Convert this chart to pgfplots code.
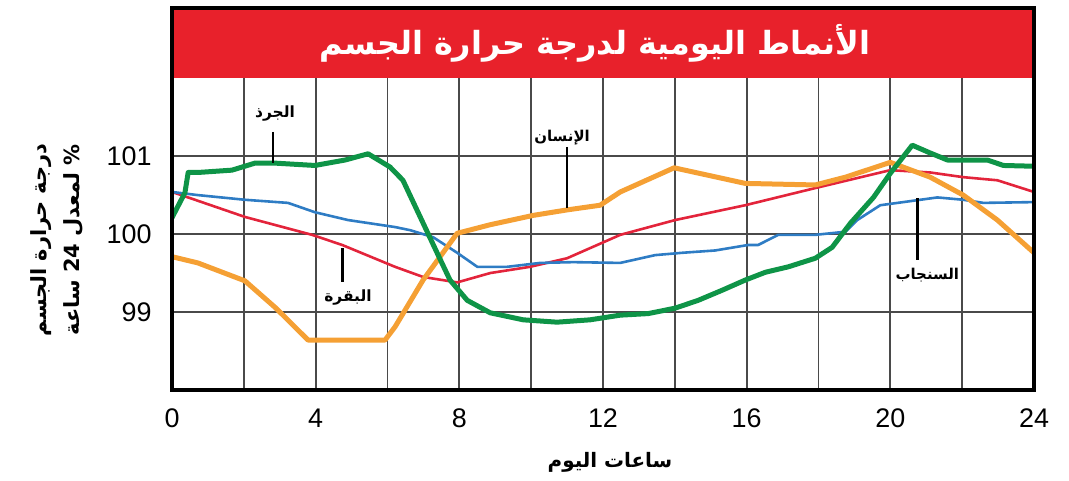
\documentclass[border=0pt]{standalone}
\usepackage{pgfplots}
\pgfplotsset{compat=1.18}
\usepackage{fontspec}
\setmainfont{Liberation Sans}
\newfontfamily\arabicfont[Script=Arabic]{DejaVu Sans}
\TeXXeTstate=1
\definecolor{cgreen}{HTML}{0E9447}
\definecolor{corange}{HTML}{F5A034}
\definecolor{cred}{HTML}{E3243B}
\definecolor{cblue}{HTML}{2E7CC4}
\definecolor{cband}{HTML}{E8212B}
\definecolor{cgrid}{HTML}{4A4A4A}
\begin{document}
\begin{tikzpicture}
\begin{axis}[name=ax, scale only axis, width=862bp, height=382bp,
  xmin=0, xmax=24, ymin=98, ymax=102.9,
  xtick={0,4,...,24}, minor xtick={2,6,...,22}, ytick={99,100,101},
  xmajorgrids, xminorgrids, ymajorgrids,
  grid style={cgrid, line width=1.8bp}, minor grid style={cgrid, line width=1.8bp},
  major tick length=0pt, minor tick length=0pt,
  axis line style={line width=4.5bp, black},
  ticklabel style={font=\fontsize{27}{27}\selectfont},
  /pgf/number format/assume math mode=true,
  xticklabel style={yshift=-15bp},
  yticklabel style={xshift=-17bp},
  every axis plot/.append style={line join=round, line cap=round},
]
\fill[cband] (axis cs:0,102) rectangle (axis cs:24,102.9);
\addplot[cred, line width=2.6bp] coordinates {(0,100.54)(0.64,100.44)(2.03,100.22)(3.90,99.99)(4.74,99.86)(6.21,99.58)(6.99,99.45)(7.94,99.38)(8.86,99.50)(9.97,99.58)(11.00,99.69)(12.48,99.99)(14.01,100.18)(15.96,100.37)(17.91,100.59)(20.0,100.82)(21.11,100.79)(22.03,100.73)(22.98,100.69)(24,100.54)};
\addplot[cblue, line width=2.6bp] coordinates {(0,100.54)(0.72,100.50)(2.03,100.44)(3.23,100.40)(3.98,100.28)(4.90,100.18)(6.21,100.09)(6.63,100.05)(7.27,99.96)(7.94,99.76)(8.50,99.58)(9.33,99.58)(10.25,99.63)(11.17,99.64)(12.48,99.63)(13.45,99.73)(14.21,99.76)(15.13,99.79)(16.04,99.86)(16.32,99.86)(16.88,99.99)(17.91,99.99)(18.75,100.03)(19.08,100.18)(19.72,100.37)(20.36,100.41)(21.31,100.47)(22.03,100.44)(22.59,100.40)(24,100.41)};
\addplot[corange, line width=5bp] coordinates {(0,99.71)(0.72,99.63)(2.03,99.40)(2.87,99.06)(3.79,98.64)(5.93,98.64)(6.21,98.81)(6.99,99.41)(7.94,100.01)(8.86,100.12)(10.06,100.24)(11.00,100.31)(11.92,100.37)(12.48,100.54)(13.98,100.85)(15.96,100.65)(17.91,100.63)(18.75,100.73)(20.0,100.92)(21.11,100.73)(22.03,100.50)(22.98,100.18)(24,99.76)};
\addplot[cgreen, line width=5bp] coordinates {(0,100.21)(0.36,100.53)(0.45,100.79)(0.72,100.79)(1.67,100.82)(2.31,100.91)(2.87,100.91)(3.98,100.88)(4.82,100.95)(5.46,101.03)(6.07,100.86)(6.43,100.69)(6.91,100.22)(7.38,99.76)(7.74,99.41)(8.22,99.15)(8.86,98.99)(9.78,98.90)(10.72,98.87)(11.64,98.90)(12.48,98.96)(13.26,98.98)(14.01,99.05)(14.65,99.15)(15.32,99.28)(15.96,99.41)(16.52,99.51)(17.16,99.58)(17.91,99.69)(18.38,99.83)(18.89,100.14)(19.53,100.47)(20.0,100.78)(20.61,101.14)(21.11,101.04)(21.59,100.95)(22.03,100.95)(22.70,100.95)(23.15,100.88)(24,100.87)};
% leader lines
\draw[black, line width=2.8bp] (axis cs:2.81,101.31) -- (axis cs:2.81,100.91);
\draw[black, line width=2.8bp] (axis cs:11.0,101.12) -- (axis cs:11.0,100.33);
\draw[black, line width=2.8bp] (axis cs:4.74,99.82) -- (axis cs:4.74,99.38);
\draw[black, line width=2.8bp] (axis cs:20.75,100.46) -- (axis cs:20.75,99.67);
\node[font=\arabicfont\bfseries\fontsize{15.5}{15.5}\selectfont] at (axis cs:2.87,101.55) {\beginR الجرذ\endR};
\node[font=\arabicfont\bfseries\fontsize{15}{15}\selectfont] at (axis cs:10.86,101.24) {\beginR الإنسان\endR};
\node[font=\arabicfont\bfseries\fontsize{15.5}{15.5}\selectfont] at (axis cs:4.90,99.19) {\beginR البقرة\endR};
\node[font=\arabicfont\bfseries\fontsize{15}{15}\selectfont] at (axis cs:21.03,99.47) {\beginR السنجاب\endR};
\node[text=white, font=\arabicfont\bfseries\fontsize{32}{32}\selectfont] at (axis cs:11.78,102.45) {\beginR الأنماط اليومية لدرجة حرارة الجسم\endR};
\end{axis}
\draw[black, line width=4.5bp] (ax.south west) rectangle (ax.north east);
\node[rotate=90, align=center, font=\arabicfont\bfseries\fontsize{21}{34}\selectfont]
  at ([xshift=-115bp, yshift=150bp]ax.south west)
  {\beginR درجة حرارة الجسم\endR\\\beginR \% لمعدل \beginL 24\endL{} ساعة\endR};
\node[font=\arabicfont\bfseries\fontsize{20}{20}\selectfont]
  at ([xshift=438bp, yshift=-72bp]ax.south west) {\beginR ساعات اليوم\endR};
\path[use as bounding box] ([xshift=-172bp, yshift=-91bp]ax.south west) rectangle ([xshift=35bp, yshift=8bp]ax.north east);
\end{tikzpicture}
\end{document}
